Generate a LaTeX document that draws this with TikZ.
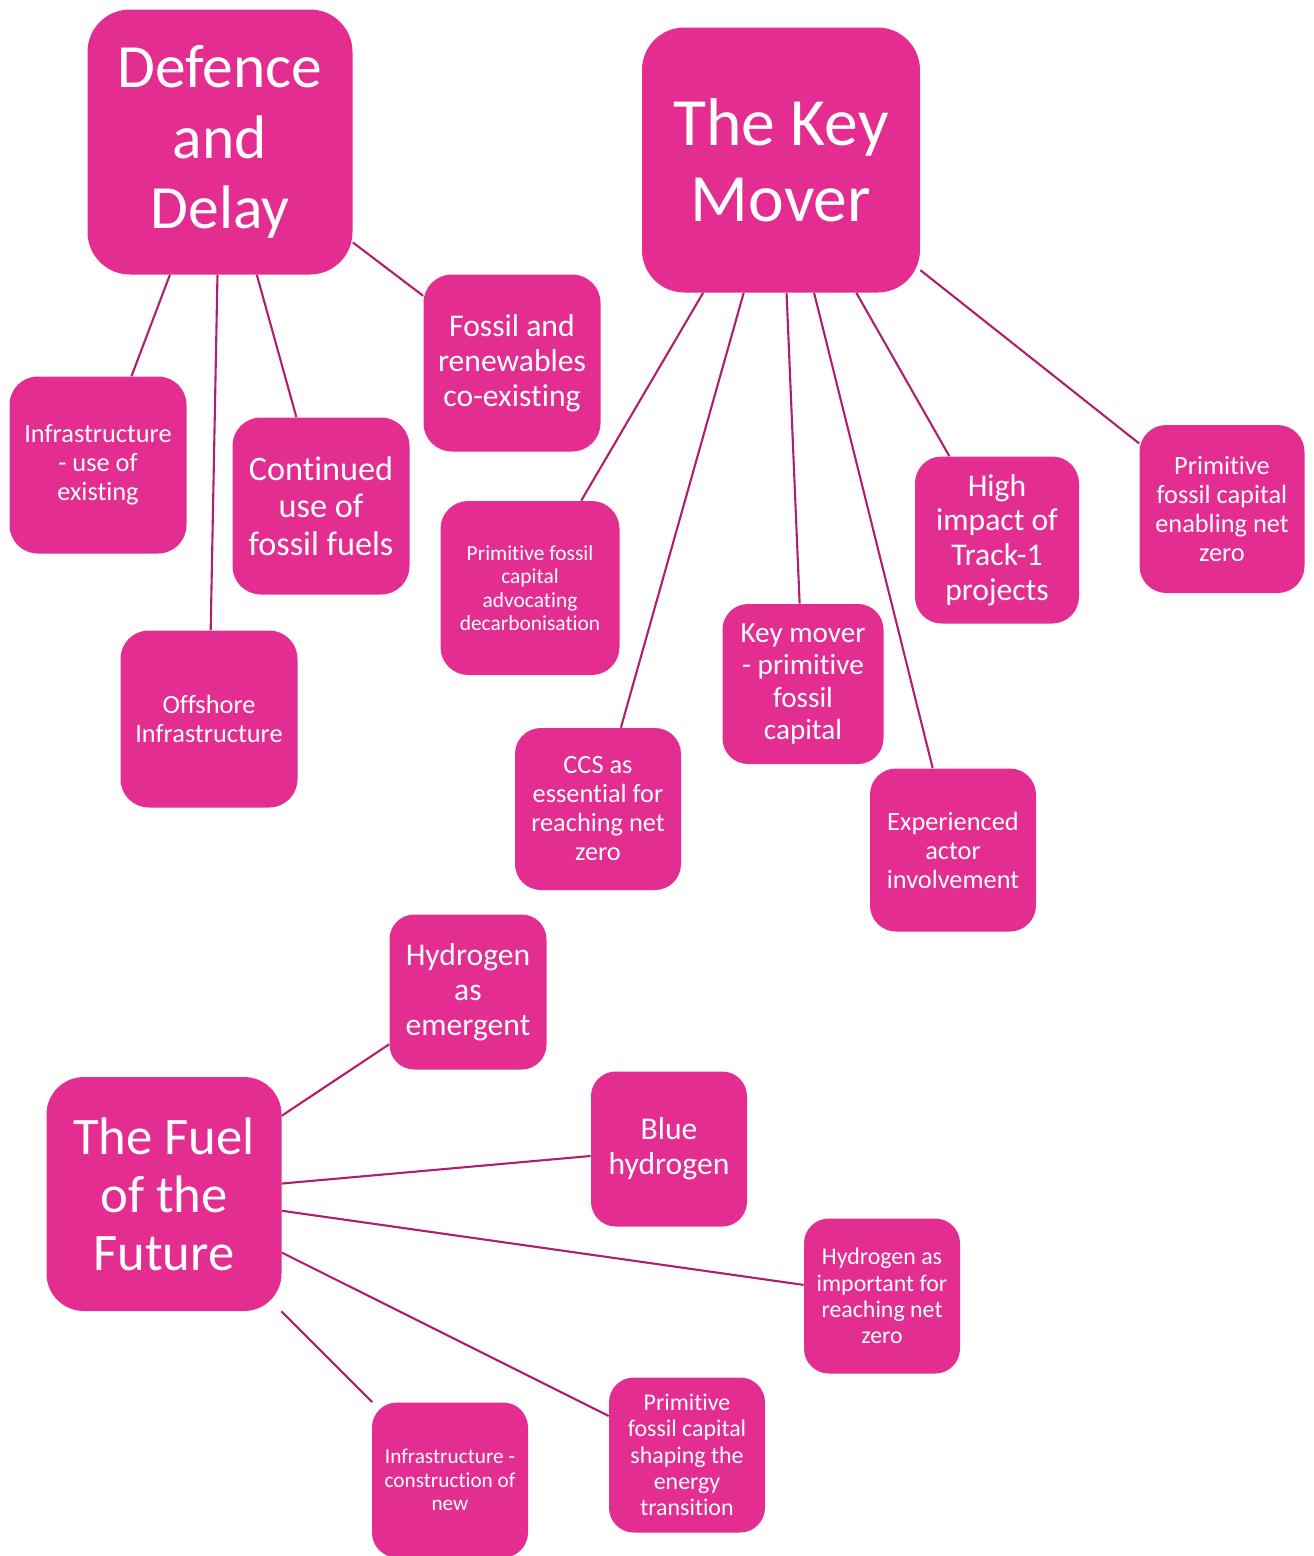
\documentclass[tikz,border=0pt]{standalone}
\usepackage{fontspec}
\setmainfont{Carlito}[Renderer=OpenType, Ligatures={NoCommon,NoContextual,NoRequired}, Contextuals=NoAlternate]
\definecolor{pinkbox}{HTML}{E32D91}
\definecolor{pinkline}{HTML}{B01F6E}
\newcommand{\fsz}[1]{\fontsize{#1pt}{\dimexpr #1pt*11/10\relax}\selectfont}
\tikzset{
  box/.style 2 args={rectangle, fill=pinkbox, text=white, align=center, inner sep=0pt,
    minimum width=#1*0.02cm, minimum height=#2*0.02cm, rounded corners=0.16*#2*0.02cm},
  link/.style={draw=pinkline, line width=1.2pt}
}
\begin{document}
\begin{tikzpicture}[x=0.02cm, y=-0.02cm]
\useasboundingbox (0,0) rectangle (1313,1556);
%Các nút chính
\node[box={265}{265}, font=\fontsize{35pt}{40pt}\selectfont] (dd) at (220,142) {Defence\\and\\Delay};
\node[box={278}{265}, font=\fontsize{38.5pt}{43pt}\selectfont] (km) at (781,160) {The Key\\Mover};
\node[box={235}{234}, font=\fsz{30}] (ff) at (164,1194) {The Fuel\\of the\\Future};
%Defence and Delay
\node[box={177}{177}, font=\fsz{18}] (fr) at (512,363) {Fossil and\\renewables\\co-existing};
\node[box={177}{177}, font=\fsz{15}] (ie) at (98,465) {Infrastructure\\- use of\\existing};
\node[box={177}{177}, font=\fsz{19.5}] (cu) at (321,506) {Continued\\use of\\fossil fuels};
\node[box={177}{177}, font=\fsz{15}] (oi) at (209,719) {Offshore\\Infrastructure};
%The Key Mover
\node[box={179}{174}, font=\fsz{12.2}] (pa) at (530,588) {Primitive fossil\\capital\\advocating\\decarbonisation};
\node[box={166}{162}, font=\fsz{15}] (cc) at (598,809) {CCS as\\essential for\\reaching net\\zero};
\node[box={161}{160}, font=\fsz{16.6}] (kp) at (803,684) {Key mover\\- primitive\\fossil\\capital};
\node[box={166}{163}, font=\fsz{15}] (ea) at (953,850) {Experienced\\actor\\involvement};
\node[box={164}{167}, font=\fsz{18}] (hi) at (997,540) {High\\impact of\\Track-1\\projects};
\node[box={165}{168}, font=\fsz{15}] (pe) at (1222,509) {Primitive\\fossil capital\\enabling net\\zero};
%The Fuel of the Future
\node[box={157}{155}, font=\fsz{18}] (he) at (468,992) {Hydrogen\\as\\emergent};
\node[box={156}{155}, font=\fsz{18}] (bh) at (669,1149) {Blue\\hydrogen};
\node[box={156}{155}, font=\fsz{13.6}] (hn) at (882,1296) {Hydrogen as\\important for\\reaching net\\zero};
\node[box={156}{155}, font=\fsz{13.6}] (ps) at (687,1455) {Primitive\\fossil capital\\shaping the\\energy\\transition};
\node[box={156}{155}, font=\fsz{12.1}] (in) at (450,1480) {Infrastructure -\\construction of\\new};
%Các đường nối
\foreach \a/\b in {dd/fr, dd/ie, dd/cu, dd/oi,
  km/pa, km/cc, km/kp, km/ea, km/hi, km/pe,
  ff/he, ff/bh, ff/hn, ff/ps, ff/in}
\draw[link] (\a) -- (\b);
\end{tikzpicture}
\end{document}
